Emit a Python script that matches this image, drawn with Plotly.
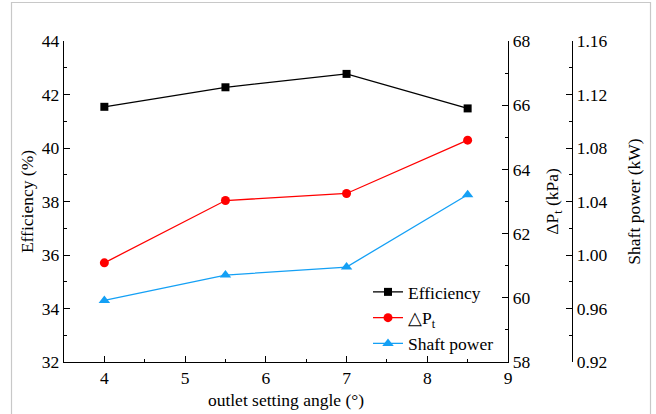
import plotly.graph_objects as go

angle = [4, 5.5, 7, 8.5]
efficiency = [41.54, 42.27, 42.77, 41.48]
delta_pt = [61.09, 63.03, 63.25, 64.91]
shaft_power = [0.966, 0.985, 0.991, 1.045]

FONT = "Liberation Serif"
FS = 17.5
W, H = 656, 414
ML, MR_PX, MT, MB = 64, 600, 41, 52  # plot area from x=64 to x=600
plot_w = MR_PX - ML
plot_h = H - MT - MB
x_dom_end = (508 - ML) / plot_w
y3_pos = (572 - ML) / plot_w

fig = go.Figure()
fig.add_trace(go.Scatter(x=angle, y=efficiency, name="Efficiency", mode="lines+markers",
                         line=dict(color="#000000", width=1.3),
                         marker=dict(symbol="square", size=8, color="#000000"), yaxis="y"))
fig.add_trace(go.Scatter(x=angle, y=delta_pt, name="△P<sub>t</sub>", mode="lines+markers",
                         line=dict(color="#ff0000", width=1.3),
                         marker=dict(symbol="circle", size=9, color="#ff0000"), yaxis="y2"))
fig.add_trace(go.Scatter(x=angle, y=shaft_power, name="Shaft power", mode="lines+markers",
                         line=dict(color="#14a0f5", width=1.3),
                         marker=dict(symbol="triangle-up", size=10, color="#14a0f5"), yaxis="y3"))

common = dict(showline=True, linecolor="black", linewidth=1.3, ticks="inside", ticklen=6,
              tickwidth=1.2, tickcolor="black", showgrid=False, zeroline=False, automargin=False,
              tickfont=dict(family=FONT, size=FS, color="black"))

fig.update_layout(
    width=W, height=H,
    margin=dict(l=ML, r=W - MR_PX, t=MT, b=MB, autoexpand=False),
    paper_bgcolor="white", plot_bgcolor="white",
    font=dict(family=FONT, size=FS, color="black"),
    showlegend=True,
    legend=dict(x=(368 - ML) / plot_w, y=(362 - 274) / plot_h, xanchor="left", yanchor="top",
                bgcolor="rgba(0,0,0,0)", font=dict(family=FONT, size=FS), tracegroupgap=0),
    xaxis=dict(domain=[0, x_dom_end], range=[3.5, 9], dtick=1, tick0=0,
               minor=dict(dtick=0.5, ticks="inside", ticklen=3, tickcolor="black"),
               title=dict(text="outlet setting angle (°)", font=dict(family=FONT, size=FS), standoff=6),
               **common),
    yaxis=dict(range=[32, 44], dtick=2, tick0=0,
               minor=dict(dtick=1, ticks="inside", ticklen=3, tickcolor="black"),
               title=dict(text="Efficiency (%)", font=dict(family=FONT, size=FS), standoff=3),
               **common),
    yaxis2=dict(range=[58, 68], dtick=2, tick0=0, overlaying="y", side="right", anchor="x",
                minor=dict(dtick=1, ticks="inside", ticklen=3, tickcolor="black"),
                title=dict(text="ΔP<sub>t</sub> (kPa)", font=dict(family=FONT, size=FS), standoff=16),
                **common),
    yaxis3=dict(range=[0.92, 1.16], dtick=0.04, tick0=0, tickformat=".2f", overlaying="y",
                side="right", anchor="free", position=y3_pos,
                minor=dict(dtick=0.02, ticks="inside", ticklen=3, tickcolor="black"),
                title=dict(text="Shaft power (kW)", font=dict(family=FONT, size=FS), standoff=21),
                **common),
    shapes=[dict(type="rect", xref="paper", yref="paper",
                 x0=(11.5 - ML) / plot_w, x1=(650.5 - ML) / plot_w,
                 y0=(H - MB - 430) / plot_h, y1=(H - MB - 2.5) / plot_h,
                 line=dict(color="#c8c8c8", width=1.2), fillcolor="rgba(0,0,0,0)", layer="below")],
)

fig.write_html("out.html", config={"displayModeBar": False},
               post_script="document.body.style.margin='0';document.body.style.overflow='hidden';")
